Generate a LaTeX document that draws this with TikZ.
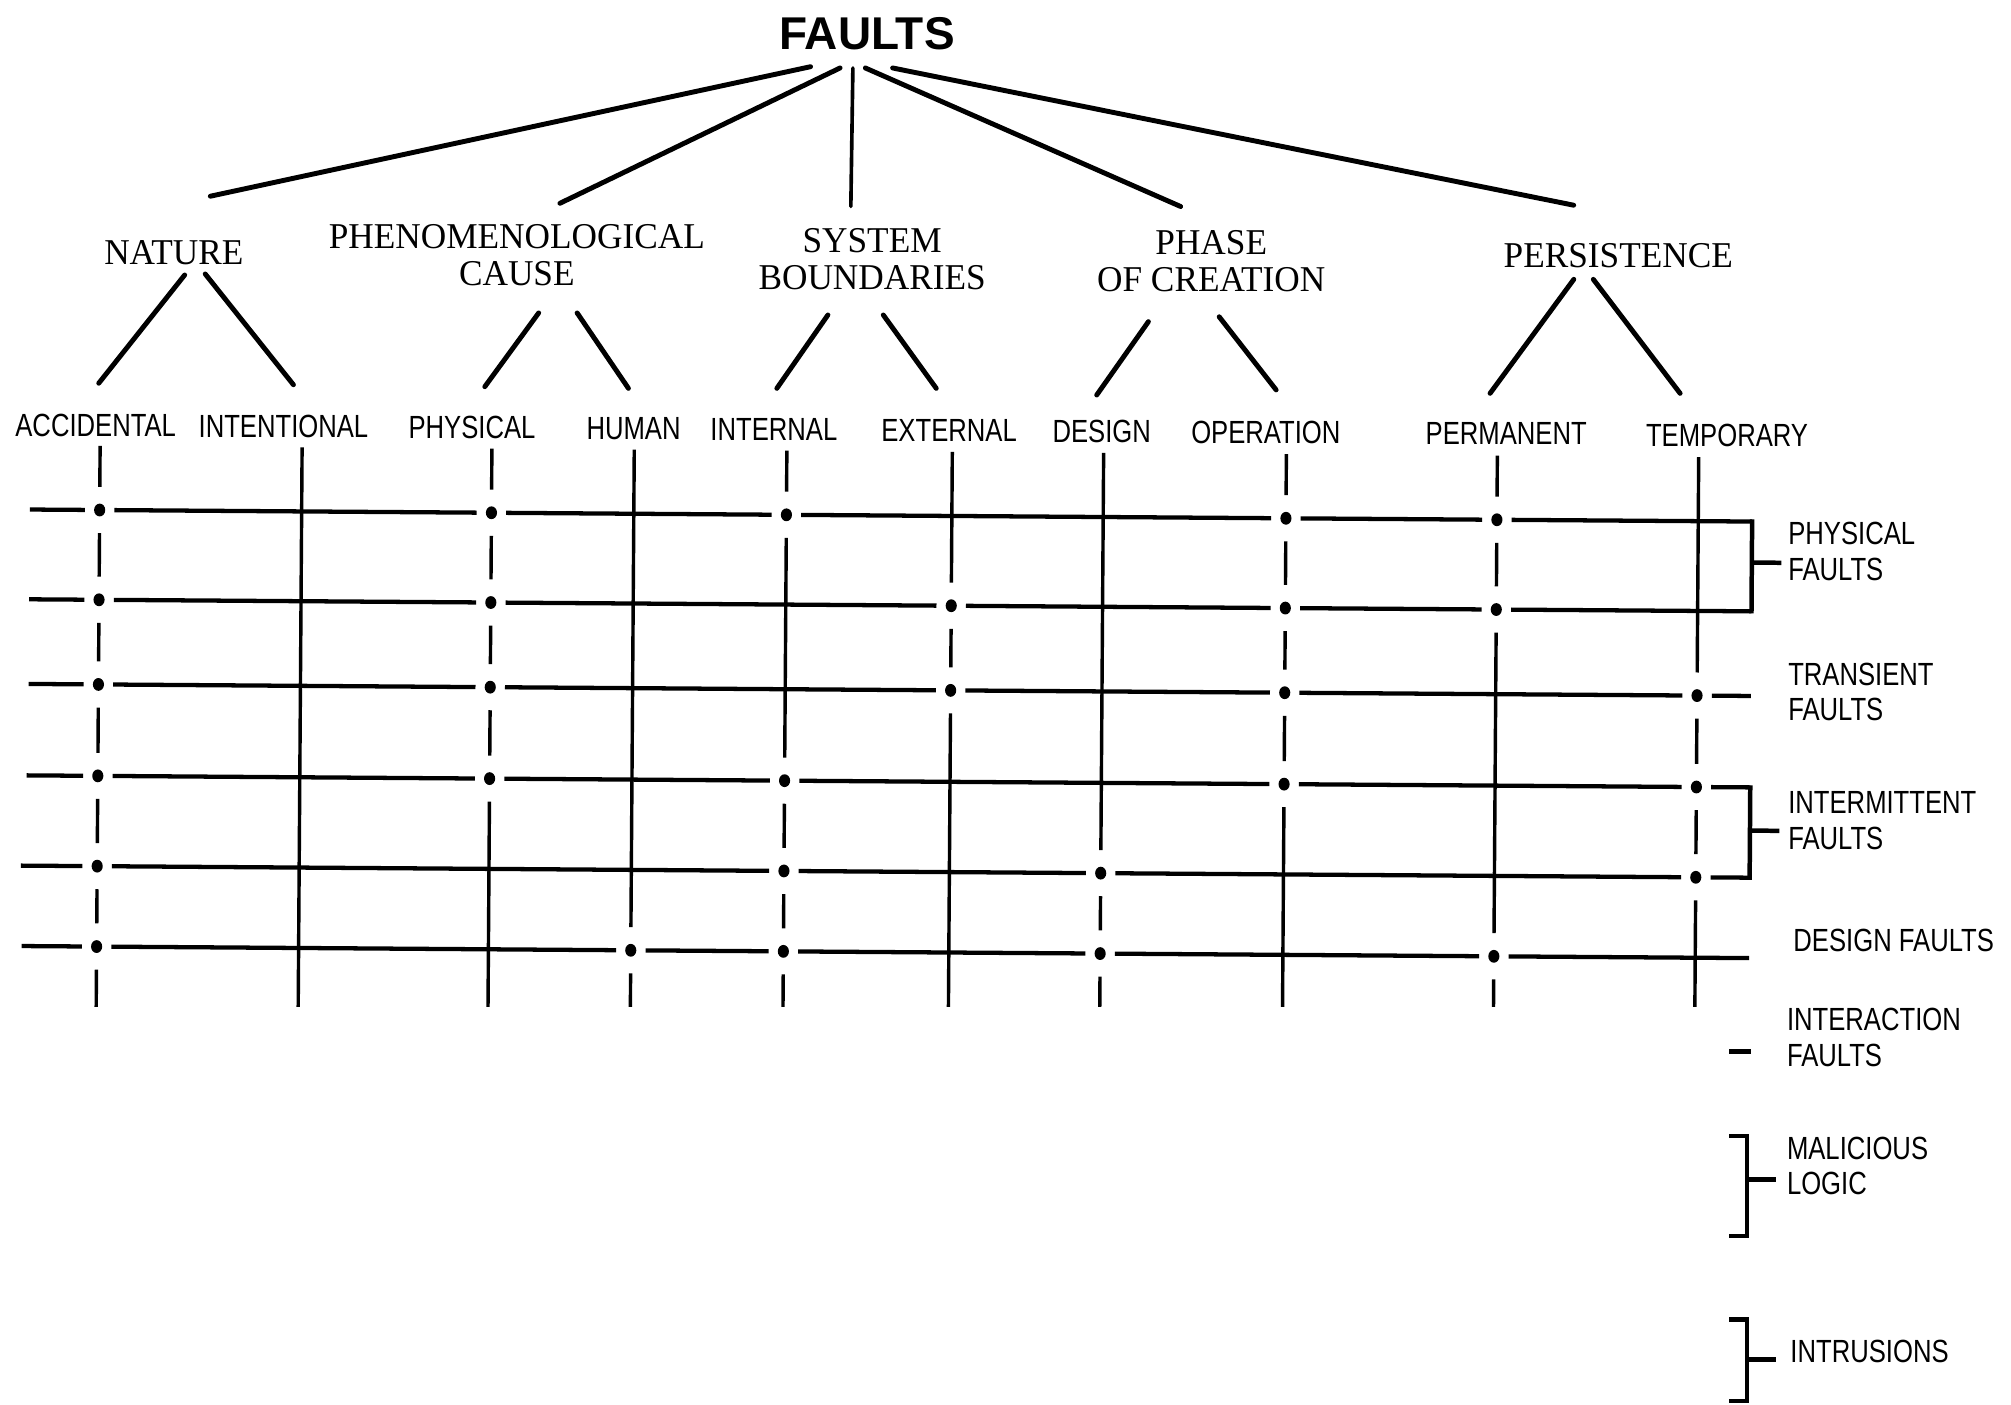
\documentclass[tikz,border=0pt]{standalone}
\usepackage{fontspec}
\setmainfont{Liberation Serif}
\newfontfamily\catfont[FakeStretch=0.97]{Liberation Serif}
\newfontfamily\subfont[FakeStretch=0.8]{Liberation Sans}
\newfontfamily\headfont{Liberation Sans}
\begin{document}
\begin{tikzpicture}[x=0.6pt,y=-0.6pt,
  cat/.style={font=\catfont\fontsize{17}{17.2}\selectfont, align=center, inner sep=0pt},
  sub/.style={font=\subfont\fontsize{15}{16}\selectfont, inner sep=0pt},
  side/.style={font=\subfont\fontsize{15}{16.5}\selectfont, align=left, anchor=west, inner sep=0pt},
  tree/.style={line width=2.3pt, line cap=round},
  hline/.style={line width=2pt},
  vline/.style={line width=1.6pt},
  brk/.style={line width=2.1pt, line join=miter}]
\path[use as bounding box, fill=white] (0,0) rectangle (1568,1095);

% ---------- tree labels ----------
\node[font=\headfont\bfseries\fontsize{21.5}{24}\selectfont, inner sep=0pt] (faults) at (676,26) {FAULTS};
\node[cat] (nature) at (135.5,197) {NATURE};
\node[cat] (phen) at (403,198.8) {PHENOMENOLOGICAL\\CAUSE};
\node[cat] (sysb) at (680,202) {SYSTEM\\BOUNDARIES};
\node[cat] (phase) at (944.4,203.4) {PHASE\\OF CREATION};
\node[cat] (pers) at (1261.8,199.5) {PERSISTENCE};

\node[sub] (acc) at (74.6,331.4) {ACCIDENTAL};
\node[sub] (int) at (221,332.3) {INTENTIONAL};
\node[sub] (phy) at (368,333.2) {PHYSICAL};
\node[sub] (hum) at (494,334) {HUMAN};
\node[sub] (inl) at (603.4,334.6) {INTERNAL};
\node[sub] (ext) at (740,335.5) {EXTERNAL};
\node[sub] (des) at (859,336.2) {DESIGN};
\node[sub] (ope) at (987,337) {OPERATION};
\node[sub] (prm) at (1174.4,338.1) {PERMANENT};
\node[sub] (tmp) at (1346.6,339.2) {TEMPORARY};

% ---------- connector end points ----------
\coordinate (fA) at (632,52);   \coordinate (natT) at (164,153);
\coordinate (fB) at (655,53);   \coordinate (phenT) at (436.6,158.5);
\coordinate (fC) at (665,53);   \coordinate (sysT) at (663.4,161);
\coordinate (fD) at (674.7,53); \coordinate (phaT) at (920.5,161);
\coordinate (fE) at (696,53);   \coordinate (perT) at (1227,160);

\coordinate (natL) at (144,214.4);   \coordinate (accT) at (77,298.8);
\coordinate (natR) at (160,213.6);   \coordinate (intT) at (228.8,300);
\coordinate (phenL) at (420,244);    \coordinate (phyT) at (378,301.5);
\coordinate (phenR) at (450,244);    \coordinate (humT) at (490,302.8);
\coordinate (sysL) at (645.5,245.6); \coordinate (inlT) at (605.7,302.8);
\coordinate (sysR) at (688.7,245.6); \coordinate (extT) at (730,302.8);
\coordinate (phaL) at (895.4,250.8); \coordinate (desT) at (855.1,308);
\coordinate (phaR) at (950.6,247);   \coordinate (opeT) at (995,304);
\coordinate (perL) at (1227.1,217.8);\coordinate (prmT) at (1161.8,306.7);
\coordinate (perR) at (1242.3,217.8);\coordinate (tmpT) at (1310,306.7);

\draw[tree] (fA) -- (natT);
\draw[tree] (fB) -- (phenT);
\draw[tree, line width=1.7pt] (fC) -- (sysT);
\draw[tree] (fD) -- (phaT);
\draw[tree] (fE) -- (perT);

\draw[tree] (natL) -- (accT);   \draw[tree] (natR) -- (intT);
\draw[tree] (phenL) -- (phyT);  \draw[tree] (phenR) -- (humT);
\draw[tree] (sysL) -- (inlT);   \draw[tree] (sysR) -- (extT);
\draw[tree] (phaL) -- (desT);   \draw[tree] (phaR) -- (opeT);
\draw[tree] (perL) -- (prmT);   \draw[tree] (perR) -- (tmpT);

% ---------- grid ----------
\begin{scope}
\clip (0,0) rectangle (1568,785);
\begin{scope}[rotate around={-0.4:(700,570)}]
  % rows
  \foreach \ry/\lx/\dl in {402/22/{76.5,382,612,1001.5,1166},
                           472/22/{76.5,382,741,1001.5,1166},
                           538/22/{76.5,382,741,1001.5,1323},
                           609.3/21/{76.5,382,612,1001.5,1323},
                           679.7/17/{76.5,612,859,1323},
                           742.4/18/{76.5,493,612,859,1166}} {
    \draw[hline] (\lx,\ry) \foreach \q in \dl { -- (\q-11.5,\ry) (\q+11.5,\ry) } -- (1365,\ry);
    \foreach \q in \dl { \fill (\q,\ry) ellipse[x radius=2.6pt, y radius=3pt]; }
  }
  % columns
  \draw[vline] (234,352) -- (234,800);
  \foreach \cx/\dl in {76.5/{402,472,538,609.3,679.7,742.4},
                       382/{402,472,538,609.3},
                       493/{742.4},
                       612/{402,609.3,679.7,742.4},
                       741/{472,538},
                       859/{679.7,742.4},
                       1001.5/{402,472,538,609.3},
                       1166/{402,472,742.4},
                       1323/{538,609.3,679.7}} {
    \draw[vline] (\cx,352) \foreach \q in \dl { -- (\cx,\q-18) (\cx,\q+18) } -- (\cx,800);
  }
  % brackets
  \draw[brk, shorten <=-1pt, shorten >=-1pt] (1365,402) -- (1365,472);
  \draw[brk] (1365,434) -- (1388,434);
  \draw[brk, shorten <=-1pt, shorten >=-1pt] (1365,609.3) -- (1365,679.7);
  \draw[brk] (1365,643) -- (1388,643);
\end{scope}
\end{scope}

% ---------- lower right marks ----------
\draw[brk] (1348.4,820) -- (1365,820);
\draw[brk] (1348.4,885.8) -- (1362,885.8) -- (1362,963.8) -- (1348.4,963.8);
\draw[brk] (1362,919.6) -- (1384.8,919.6);
\draw[brk] (1348.4,1028.7) -- (1362,1028.7) -- (1362,1092.5) -- (1348.4,1092.5);
\draw[brk] (1362,1060) -- (1385,1060);

% ---------- right labels ----------
\node[side] (lphys) at (1394,430) {PHYSICAL\\FAULTS};
\node[side] (ltran) at (1394,539.5) {TRANSIENT\\FAULTS};
\node[side] (linter) at (1394,639.8) {INTERMITTENT\\FAULTS};
\node[side] (ldes) at (1398,733.5) {DESIGN FAULTS};
\node[side] (linact) at (1393,809) {INTERACTION\\FAULTS};
\node[side] (lmal) at (1393,909) {MALICIOUS\\LOGIC};
\node[side] (lintr) at (1395.7,1053.5) {INTRUSIONS};
\end{tikzpicture}
\end{document}
